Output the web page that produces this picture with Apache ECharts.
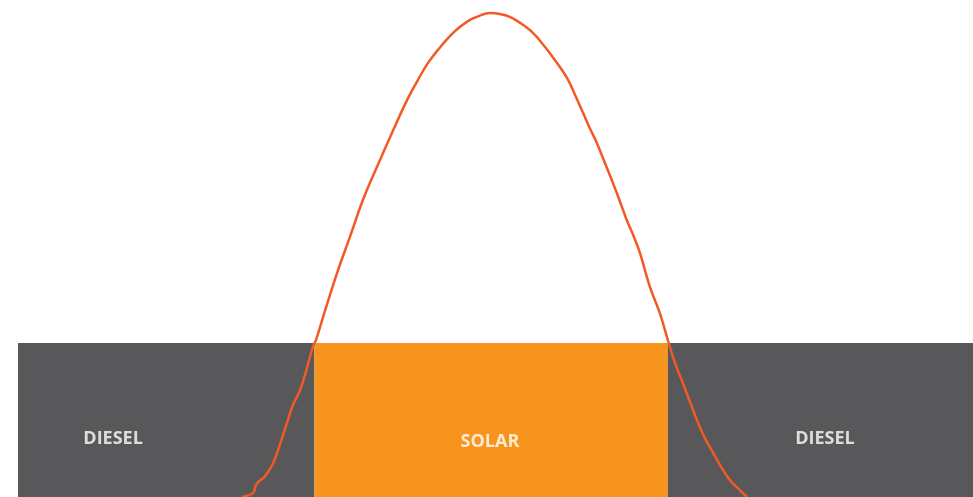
<!DOCTYPE html>
<html><head><meta charset="utf-8">
<script src="https://cdn.jsdelivr.net/npm/echarts@6/dist/echarts.min.js"></script>
<style>html,body{margin:0;padding:0;background:#fff}#c{width:973px;height:497px}</style>
</head><body><div id="c"></div>
<script>
// Time of day (hours) and solar output (% of peak scale)
const curveHours = [5.63,5.91,5.96,6.01,6.21,6.41,6.58,6.76,6.91,7.09,7.26,7.41,7.49,7.72,8.02,8.34,8.67,9.02,9.35,9.78,10.05,10.30,10.61,10.86,11.11,11.36,11.53,11.86,12.11,12.36,12.62,12.94,13.19,13.44,13.80,14.00,14.20,14.37,14.55,14.75,14.95,15.13,15.30,15.48,15.63,15.88,16.13,16.33,16.51,16.71,16.89,17.06,17.26,17.47,17.69,17.89,18.14,18.32];
const curveValues = [0,0.8,2.0,2.8,4.2,6.8,10.5,14.9,18.5,21.5,25.9,30.2,31.6,37.6,45.1,52.3,59.8,66.4,72.4,79.9,83.9,87.3,90.5,92.8,94.6,96.0,96.6,97.4,97.2,96.6,95.4,93.4,91.1,88.5,84.3,80.9,77.3,74.2,71.2,67.2,63.2,59.4,55.7,52.3,49.1,42.3,37.0,31.6,27.0,22.9,19.1,15.5,11.9,8.9,5.8,3.4,1.4,0];
// Supply zones
const zoneNames = ['DIESEL','SOLAR','DIESEL'];
const zoneStart = [0,7.45,16.33];
const zoneEnd = [7.45,16.33,24];
const zoneLevel = 31;
const labelHours = [2.39,11.86,20.28];
const labelValues = [11.7,11.1,11.7];

const zoneColors = ['#58585a','#f7941d','#58585a'];
const chart = echarts.init(document.getElementById('c'));
chart.setOption({
  animation:false,
  grid:{left:18,right:0,top:0,bottom:0},
  xAxis:{type:'value',min:0,max:24,show:false},
  yAxis:{type:'value',min:0,max:100,show:false},
  series:[
    {type:'line',data:[],silent:true,
     markArea:{silent:true,data:zoneNames.map((n,i)=>[
       {xAxis:zoneStart[i],yAxis:0,itemStyle:{color:zoneColors[i]}},
       {xAxis:zoneEnd[i],yAxis:zoneLevel}])}},
    {type:'scatter',symbolSize:0,z:3,
     data:zoneNames.map((n,i)=>[labelHours[i],labelValues[i],n]),
     label:{show:true,position:'inside',formatter:p=>p.data[2],color:'#ffffff',
       fontFamily:'Open Sans',fontWeight:'bold',fontSize:18}},
    {type:'line',z:5,symbol:'none',smooth:0.4,clip:true,
     data:curveHours.map((h,i)=>[h,curveValues[i]]),
     lineStyle:{color:'#f15a24',width:2.5}}
  ]
});
</script></body></html>
